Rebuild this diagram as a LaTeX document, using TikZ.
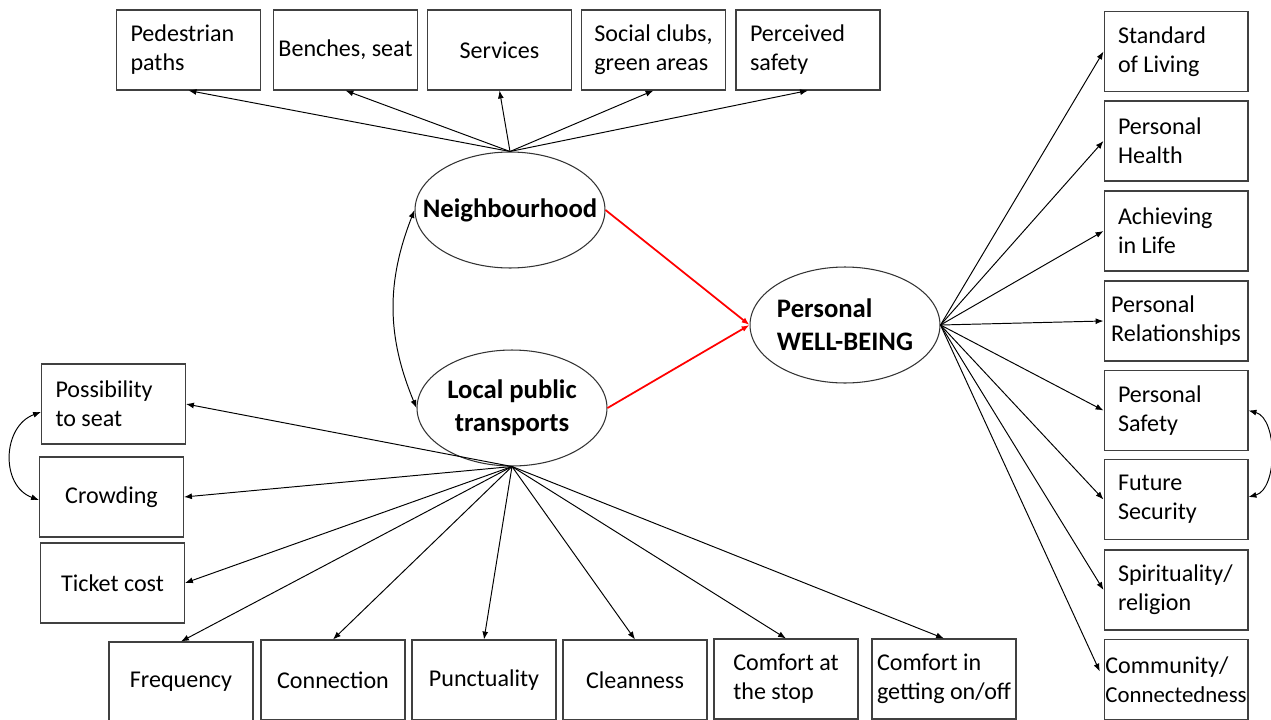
\documentclass[tikz,border=0pt]{standalone}
\usepackage{fontspec}
\setmainfont{Carlito}
\usetikzlibrary{shapes.geometric, arrows.meta}

\tikzset{
    box/.style={draw=black!75, line width=0.6pt, minimum width=2.88cm, minimum height=1.6cm,
        align=left, inner xsep=0.5pt, inner ysep=2pt, font=\fontsize{13.7}{16.5}\selectfont},
    rbox/.style={box, text width=2.32cm, align=flush left, inner xsep=0.28cm},
    latent/.style={draw=black!80, line width=0.6pt, ellipse, minimum width=3.8cm, minimum height=2.32cm},
    ltext/.style={align=center, inner sep=0pt, font=\fontsize{15.2}{18.7}\selectfont\bfseries},
    arr/.style={-{Latex[length=4.5pt,width=3.4pt]}, line width=0.55pt},
    arrtwo/.style={{Latex[length=4.5pt,width=3.4pt]}-{Latex[length=4.5pt,width=3.4pt]}, line width=0.55pt}
}

\begin{document}
\begin{tikzpicture}[x=0.02cm, y=-0.02cm]
                \useasboundingbox (0,0) rectangle (1271,720);
                \node[latent] (nb) at (510,210) {};
                \node[ltext] (nbt) at (nb.center) {Neighbourhood};
                \node[latent] (lpt) at (512,408) {};
                \node[ltext] (lptt) at (lpt.center) {Local public\\transports};
                \node[latent] (wb) at (845,325) {};
                \node[ltext, align=left] (wbt) at (wb.center) {Personal\\WELL-BEING};

                \node[rbox] (ped) at (188.5,50) {Pedestrian\\paths};
                \node[box] (ben) at (345.5,50) {Benches, seat};
                \node[box] (serv) at (499.5,50) {Services};
                \node[box] (soc) at (653.5,50) {Social clubs,\\green areas};
                \node[rbox] (perc) at (808,50) {Perceived\\safety};

                \node[rbox] (poss) at (113.5,404) {Possibility\\to seat};
                \node[box] (crowd) at (111.5,497) {Crowding};
                \node[box] (tick) at (112.5,583) {Ticket cost};

                \node[box] (freq) at (181,682) {Frequency};
                \node[box] (conn) at (333,680) {Connection};
                \node[box] (punct) at (484,680) {Punctuality};
                \node[box] (clean) at (635,680) {Cleanness};
                \node[box] (cstop) at (786,679) {Comfort at\\the stop};
                \node[box] (cin) at (944,679) {Comfort in\\getting on/off};

                \node[rbox] (stand) at (1176,51.5) {Standard\\of Living};
                \node[rbox] (health) at (1176,141) {Personal\\Health};
                \node[rbox] (achi) at (1176,231) {Achieving\\in Life};
                \node[box] (rel) at (1176,321) {Personal\\Relationships};
                \node[rbox] (safe) at (1176,410.5) {Personal\\Safety};
                \node[rbox] (fut) at (1176,499.5) {Future\\Security};
                \node[rbox] (spir) at (1176,590) {Spirituality/\\religion};
                \node[box, inner xsep=0pt] (comm) at (1176,679.5) {Community/\\{\fontsize{13}{16.5}\selectfont Connectedness}};

                \foreach \t in {ped,ben,serv,soc,perc}{
                    \draw[arr] (nb.north) -- (\t.south);
                }
                \foreach \t in {poss,crowd,tick}{
                    \draw[arr] (lpt.south) -- (\t.east);
                }
                \foreach \t in {freq,conn,punct,clean,cstop,cin}{
                    \draw[arr] (lpt.south) -- (\t.north);
                }
                \foreach \t in {stand,health,achi,rel,safe,fut,spir}{
                    \draw[arr] (wb.east) -- (\t.west);
                }
                \draw[arr, shorten >=5pt] (wb.east) -- (comm.west);

                \draw[arr, red, line width=1pt] (nb.east) -- (wb.west);
                \draw[arr, red, line width=1pt] (lpt.east) -- (wb.west);

                \draw[arrtwo] (nb.west) to[bend right=22] (lpt.west);
                \draw[arrtwo] ([yshift=-0.16cm]poss.west) to[out=200, in=160, looseness=1.2] ([yshift=-0.06cm]crowd.west);
                \draw[arrtwo] (safe.east) to[out=-15, in=15, looseness=0.9] ([yshift=0.05cm]fut.east);
\end{tikzpicture}
\end{document}
